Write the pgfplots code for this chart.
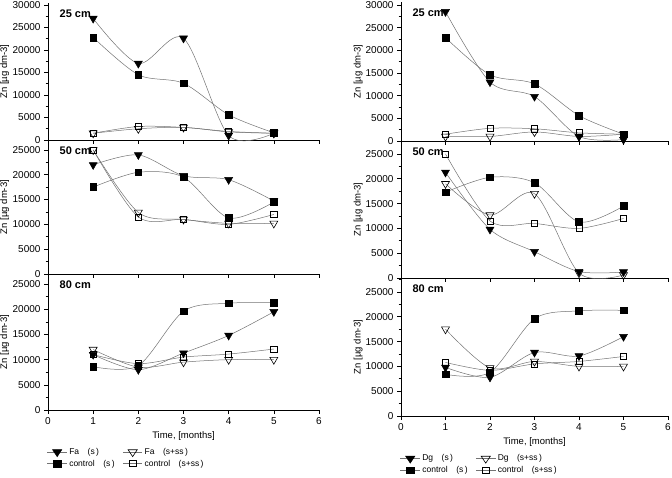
\documentclass[border=0pt]{standalone}
\usepackage{fontspec}
\setmainfont{Liberation Sans}
\usepackage{pgfplots}
\usepackage{pgfplotstable}
\pgfplotsset{compat=1.18}

% columns: month, treated (s), treated (s+ss), control (s), control (s+ss)
\pgfplotstableread{
x s ss cs css
1 27000 1500 22800 1500
2 17000 2500 14500 3000
3 22600 2800 12600 2800
4 1000 1800 5600 1900
5 1500 1500 1600 1500
}\faTop
\pgfplotstableread{
x s ss cs css
1 22000 25000 17500 25000
2 24000 12400 20500 11500
3 19800 11000 19500 11000
4 19000 10200 11300 10000
5 14700 10200 14500 12000
}\faMid
\pgfplotstableread{
x s ss cs css
1 11000 12000 8600 11000
2 8000 8500 8800 9200
3 11300 9500 19600 10500
4 14800 10000 21200 11100
5 19500 10000 21300 12100
}\faBot
\pgfplotstableread{
x s ss cs css
1 28500 1000 22800 1500
2 13000 1000 14600 2800
3 9800 2000 12600 2700
4 1000 1000 5600 1800
5 300 1500 1500 1500
}\dgTop
\pgfplotstableread{
x s ss cs css
1 21300 19000 17300 25000
2 9800 12700 20300 11500
3 5300 17000 19200 11000
4 1300 1000 11300 10000
5 1200 600 14500 12000
}\dgMid
\pgfplotstableread{
x s ss cs css
1 9800 17500 8400 10800
2 7800 9700 8800 9200
3 12800 11000 19600 10500
4 12100 10000 21200 11000
5 16000 10000 21300 12000
}\dgBot

\pgfplotsset{
  panel/.style={
    scale only axis, anchor=south west,
    xmin=0, xmax=6, ymin=0,
    axis x line=bottom, axis y line=left,
    axis line style={-, line width=0.7pt},
    xtick={0,...,6}, ytick distance=5000, minor y tick num=1,
    tick align=outside, major tick length=4pt, minor tick length=2.5pt,
    every tick/.style={black, line width=0.6pt},
    tick label style={font=\fontsize{10}{12}\selectfont,
      /pgf/number format/assume math mode=true},
    y tick label style={/pgf/number format/1000 sep={}},
    scaled y ticks=false,
    ylabel={Zn [µg dm-3]},
    every axis y label/.style={at={(axis description cs:-0.16,0.5)},
      rotate=90, anchor=center, font=\fontsize{9.5}{11}\selectfont},
    xlabel style={font=\fontsize{9.5}{11}\selectfont},
    clip=false,
  },
  upper/.style={xticklabels={}},
  ln/.style={black!55, line width=0.5pt, smooth, tension=0.5},
  fs/.style={ln, mark=triangle*, mark size=4.6pt,
    mark options={rotate=180, fill=black, draw=black, line width=0.5pt}},
  fss/.style={ln, mark=triangle, mark size=4.6pt,
    mark options={rotate=180, fill=white, draw=black, line width=0.6pt}},
  cs/.style={ln, mark=square*, mark size=3.4pt,
    mark options={fill=black, draw=black, line width=0.5pt}},
  css/.style={ln, mark=square, mark size=3.1pt,
    mark options={fill=white, draw=black, line width=0.6pt}},
  lgd/.style={
    legend style={at={(axis description cs:-0.015,-0.25)}, anchor=north west,
      draw=none, fill=none, font=\fontsize{8.5}{10}\selectfont,
      /tikz/every even column/.append style={column sep=6pt}},
    legend columns=2, legend cell align=left,
    legend image post style={xscale=1.15},
  },
}

\newcommand{\panel}[1]{%
  \addplot[fss, forget plot] table[x=x, y=ss] {#1};
  \addplot[css, forget plot] table[x=x, y=css] {#1};
  \addplot[cs, forget plot] table[x=x, y=cs] {#1};
  \addplot[fs, forget plot] table[x=x, y=s] {#1};
}
\newcommand{\depth}[1]{%
  \node[anchor=west, font=\bfseries\fontsize{11}{13}\selectfont]
    at (rel axis cs:0.03,0.92) {#1};
}

\begin{document}
\begin{tikzpicture}[x=1pt, y=1pt]
\useasboundingbox (0,0) rectangle (672,477);

% left column: Fa
\begin{axis}[panel, upper, at={(48pt,337pt)}, width=271pt, height=137pt, ymax=30444]
  \panel{\faTop}
  \depth{25 cm}
\end{axis}
\begin{axis}[panel, upper, at={(48pt,203pt)}, width=271pt, height=134pt, ymax=27000]
  \panel{\faMid}
  \depth{50 cm}
\end{axis}
\begin{axis}[panel, lgd, at={(48pt,67pt)}, width=271pt, height=136pt, ymax=27000,
    xlabel={Time, [months]}]
  \panel{\faBot}
  \depth{80 cm}
  \addlegendimage{fs}\addlegendentry{Fa\quad(s\,)}
  \addlegendimage{fss}\addlegendentry{Fa\quad(s+ss\,)}
  \addlegendimage{cs}\addlegendentry{control\quad(s\,)}
  \addlegendimage{css}\addlegendentry{control\quad(s+ss\,)}
\end{axis}

% right column: Dg
\begin{axis}[panel, upper, at={(401pt,336pt)}, width=267pt, height=139pt, ymax=30660]
  \panel{\dgTop}
  \depth{25 cm}
\end{axis}
\begin{axis}[panel, upper, at={(401pt,199pt)}, width=267pt, height=137pt, ymax=27620]
  \panel{\dgMid}
  \depth{50 cm}
\end{axis}
\begin{axis}[panel, lgd, at={(401pt,61pt)}, width=267pt, height=138pt, ymax=27820,
    xlabel={Time, [months]}]
  \panel{\dgBot}
  \depth{80 cm}
  \addlegendimage{fs}\addlegendentry{Dg\quad(s\,)}
  \addlegendimage{fss}\addlegendentry{Dg\quad(s+ss\,)}
  \addlegendimage{cs}\addlegendentry{control\quad(s\,)}
  \addlegendimage{css}\addlegendentry{control\quad(s+ss\,)}
\end{axis}
\end{tikzpicture}
\end{document}
